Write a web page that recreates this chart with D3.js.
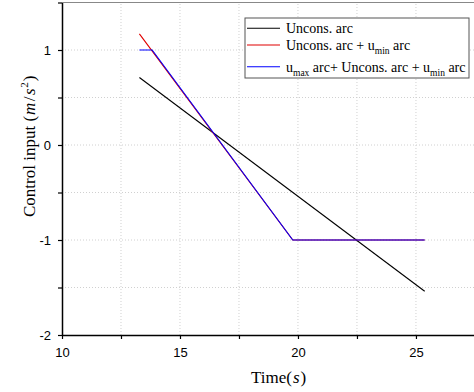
<!DOCTYPE html>
<html><head><meta charset="utf-8">
<script src="https://cdn.jsdelivr.net/npm/d3@7"></script>
<style>
body{margin:0;background:#fff;}
svg{display:block;}
.tick text{font-family:"Liberation Sans",Arial,sans-serif;font-size:13px;fill:#000;}
</style></head>
<body><div id="chart"></div>
<script>
const xTicks = [10, 15, 20, 25];
const yTicks = [-2, -1, 0, 1];
const blackT = [13.28, 25.37];
const blackU = [0.71, -1.54];
const redT = [13.28, 19.78, 25.37];
const redU = [1.17, -1.0, -1.0];
const blueT = [13.28, 13.82, 19.78, 25.37];
const blueU = [1.0, 1.0, -1.0, -1.0];
const seriesNames = ["Uncons. arc", "Uncons. arc + u_min arc", "u_max arc+ Uncons. arc + u_min arc"];
const seriesColors = ["#000000", "#e00000", "#0000ff"];

const W = 474, H = 392;
const m = {left: 62, top: 2.5, right: 0, bottom: 57};
const svg = d3.select("#chart").append("svg").attr("width", W).attr("height", H);
const x = d3.scaleLinear().domain([10, 27.46]).range([m.left, W - m.right]);
const y = d3.scaleLinear().domain([-2, 1.5]).range([H - m.bottom, m.top]);

// grid
const gridX = d3.range(12.5, 27.5, 2.5);
const gridY = d3.range(-1.5, 1.51, 0.5);
svg.append("g").selectAll("line").data(gridX).join("line")
  .attr("x1", d => x(d)).attr("x2", d => x(d)).attr("y1", y(-2)).attr("y2", y(1.5))
  .attr("stroke", "#d0d0d0").attr("stroke-width", 1).attr("stroke-dasharray", "1,2");
svg.append("g").selectAll("line").data(gridY).join("line")
  .attr("x1", x(10)).attr("x2", W).attr("y1", d => y(d)).attr("y2", d => y(d))
  .attr("stroke", "#d0d0d0").attr("stroke-width", 1).attr("stroke-dasharray", "1,2");

// top border
svg.append("line").attr("x1", x(10)).attr("x2", W).attr("y1", y(1.5)).attr("y2", y(1.5))
  .attr("stroke", "#888").attr("stroke-width", 1);

// series
const line = d3.line().x(d => x(d[0])).y(d => y(d[1]));
const series = [
  d3.zip(blackT, blackU),
  d3.zip(redT, redU),
  d3.zip(blueT, blueU)
];
series.forEach((s, i) => {
  svg.append("path").datum(s).attr("d", line).attr("fill", "none")
    .attr("stroke", seriesColors[i]).attr("stroke-width", 1.1);
});

// axes
const xAxis = d3.axisBottom(x).tickValues(d3.range(10, 27.5, 2.5))
  .tickFormat(d => xTicks.includes(d) ? d : "").tickSize(4).tickSizeOuter(0);
const gx = svg.append("g").attr("transform", `translate(0,${y(-2)})`).call(xAxis);
gx.select(".domain").attr("stroke", "#000").attr("stroke-width", 1.5);
gx.selectAll(".tick line").attr("stroke", "#000").attr("stroke-width", 1.2);
gx.selectAll(".tick text").attr("dy", "1.15em");
gx.selectAll(".tick text").filter(d => !xTicks.includes(d)).remove();

const yAxis = d3.axisLeft(y).tickValues(d3.range(-2, 1.51, 0.5))
  .tickFormat(d => yTicks.includes(d) ? d : "").tickSize(4).tickSizeOuter(0);
const gy = svg.append("g").attr("transform", `translate(${x(10)},0)`).call(yAxis);
gy.select(".domain").attr("stroke", "#000").attr("stroke-width", 1.5);
gy.selectAll(".tick line").attr("stroke", "#000").attr("stroke-width", 1.2);
gy.selectAll(".tick text").attr("x", -11);
gy.selectAll(".tick text").filter(d => !yTicks.includes(d)).remove();

// axis labels
const serif = "'Liberation Serif','Times New Roman',serif";
const xl = svg.append("text").attr("x", 251).attr("y", 383)
  .attr("font-family", serif).attr("font-size", 17).attr("fill", "#000");
xl.append("tspan").text("Time(");
xl.append("tspan").attr("font-style", "italic").attr("dx", 1).text("s");
xl.append("tspan").attr("dx", 1).text(")");

const yl = svg.append("text").attr("transform", "translate(35,217) rotate(-90)")
  .attr("font-family", serif).attr("font-size", 17).attr("fill", "#000");
yl.append("tspan").text("Control input (");
yl.append("tspan").attr("font-style", "italic").attr("dx", 1).text("m");
yl.append("tspan").attr("dx", 1.5).text("/");
yl.append("tspan").attr("font-style", "italic").attr("dx", 1.5).text("s");
yl.append("tspan").attr("font-size", 11).attr("dy", -7).attr("dx", 0.5).text("2");
yl.append("tspan").attr("dy", 7).attr("dx", 1).text(")");

// legend
const lg = svg.append("g");
lg.append("rect").attr("x", 245).attr("y", 18).attr("width", 224).attr("height", 60)
  .attr("fill", "#fff").attr("stroke", "#555").attr("stroke-width", 1);
const rowsY = [28.3, 45, 66.7];
function addText(g, name, yy) {
  const t = g.append("text").attr("x", 286).attr("y", yy + 4.8)
    .attr("font-family", serif).attr("font-size", 14).attr("fill", "#000");
  const parts = name.split(/(u_min|u_max)/).filter(p => p);
  let pendingDy = 0;
  parts.forEach(p => {
    if (p === "u_min" || p === "u_max") {
      t.append("tspan").attr("dy", pendingDy).text("u");
      t.append("tspan").attr("font-size", 9.5).attr("dy", 4).text(p.slice(2));
      pendingDy = -4;
    } else {
      t.append("tspan").attr("dy", pendingDy).text(p);
      pendingDy = 0;
    }
  });
}
seriesNames.forEach((n, i) => {
  lg.append("line").attr("x1", 247).attr("x2", 280).attr("y1", rowsY[i]).attr("y2", rowsY[i])
    .attr("stroke", seriesColors[i]).attr("stroke-width", 1.1);
  addText(lg, n, rowsY[i]);
});
</script></body></html>
